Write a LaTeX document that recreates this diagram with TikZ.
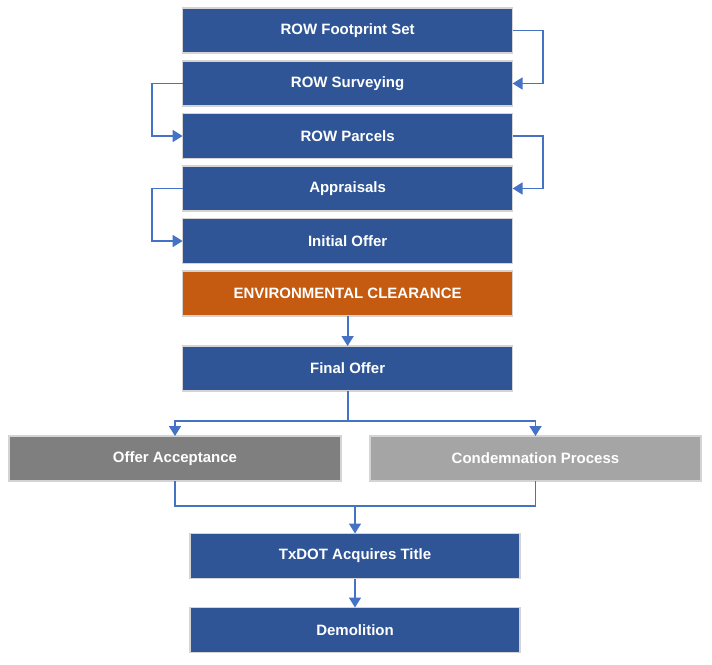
\documentclass[tikz,border=0pt]{standalone}
\usepackage{fontspec}
\setmainfont{Liberation Sans}
\usetikzlibrary{arrows.meta}
\definecolor{boxblue}{HTML}{2F5597}
\definecolor{boxorange}{HTML}{C55A11}
\definecolor{boxdgray}{HTML}{7F7F7F}
\definecolor{boxlgray}{HTML}{A5A5A5}
\definecolor{boxedge}{HTML}{D4D4D4}
\definecolor{linkblue}{HTML}{4472C4}
\tikzset{
  stepbox/.style={draw=boxedge, line width=1.5pt, fill=boxblue, text=white,
    minimum width=330pt, minimum height=45pt, inner sep=0pt, outer sep=0pt,
    font=\fontsize{15}{17}\selectfont\bfseries},
  conn/.style={draw=linkblue, line width=1.8pt, -{Triangle[length=10pt,width=12pt]}},
  plainline/.style={draw=linkblue, line width=1.8pt},
}
\begin{document}
\begin{tikzpicture}[x=1pt,y=-1pt]
\useasboundingbox (0,0) rectangle (712,664);
\node[stepbox] (b1) at (347.6,30.5) {ROW Footprint Set};
\node[stepbox] (b2) at (347.6,83.5) {ROW Surveying};
\node[stepbox] (b3) at (347.6,136) {ROW Parcels};
\node[stepbox] (b4) at (347.6,188.5) {Appraisals};
\node[stepbox] (b5) at (347.6,241) {Initial Offer};
\node[stepbox, fill=boxorange] (env) at (347.6,293.5) {ENVIRONMENTAL CLEARANCE};
\node[stepbox] (fin) at (347.6,368.5) {Final Offer};
\node[stepbox, fill=boxdgray, minimum width=332pt] (oa) at (175,458.5) {Offer Acceptance};
\node[stepbox, fill=boxlgray, minimum width=331pt] (cond) at (535.5,458.5) {Condemnation Process};
\node[stepbox] (tx) at (355,556) {TxDOT Acquires Title};
\node[stepbox] (demo) at (355,630) {Demolition};

\draw[conn] (b1.east) -- ++(30.5,0) |- (b2.east);
\draw[conn] (b2.west) -- ++(-30.5,0) |- (b3.west);
\draw[conn] (b3.east) -- ++(30.5,0) |- (b4.east);
\draw[conn] (b4.west) -- ++(-30.5,0) |- (b5.west);
\draw[conn] (env.south) -- (fin.north);
\coordinate (split) at (347.6,421);
\draw[plainline] (fin.south) -- (split);
\draw[conn] (split) -| (oa.north);
\draw[conn] (split) -| (cond.north);
\coordinate (join) at (355,506);
\draw[plainline] (oa.south) |- (join);
\draw[plainline] (cond.south) |- (join);
\draw[conn] (join) -- (tx.north);
\draw[conn] (tx.south) -- (demo.north);
\end{tikzpicture}
\end{document}
